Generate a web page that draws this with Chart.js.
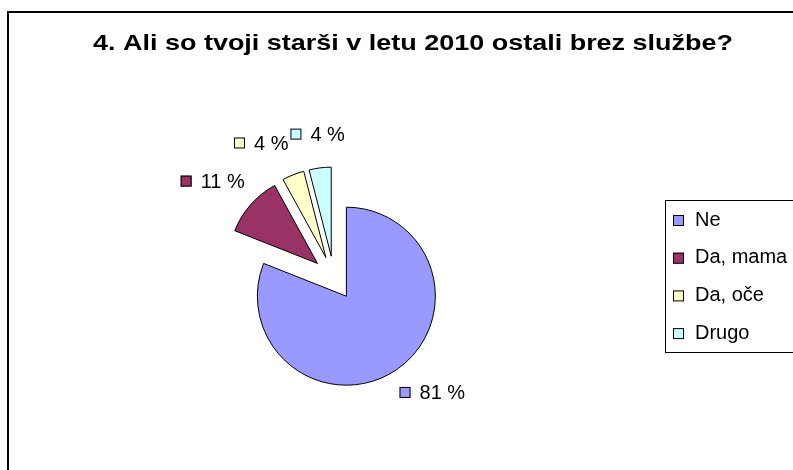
<!DOCTYPE html>
<html lang="sl">
<head>
    <meta charset="UTF-8">
    <title>4. Ali so tvoji starši v letu 2010 ostali brez službe?</title>
    <script src="https://cdn.jsdelivr.net/npm/chart.js"></script>
    <style>
        body {
            margin: 0;
            padding: 0;
            background-color: #ffffff;
        }
        .chart-wrap {
            width: 793px;
            height: 470px;
        }
    </style>
</head>
<body>
    <div class="chart-wrap">
        <canvas id="pieChart" width="793" height="470"></canvas>
    </div>

    <script>
        // Data
        const categories = ['Ne', 'Da, mama', 'Da, oče', 'Drugo'];
        const percentages = [81, 11, 4, 4];
        const sliceColors = ['#9999FF', '#993366', '#FFFFCC', '#CCFFFF'];
        const titleText = '4. Ali so tvoji starši v letu 2010 ostali brez službe?';

        const FONT = '"Liberation Sans", Arial, sans-serif';
        const EXPLODE = 22; // px every slice is pulled out of the centre

        // Draw each arc pulled out along its mid angle (Excel "exploded" pie)
        const explodedPie = {
            id: 'explodedPie',
            beforeDatasetDraw(chart, args) {
                const ctx = chart.ctx;
                args.meta.data.forEach(arc => {
                    const mid = (arc.startAngle + arc.endAngle) / 2;
                    ctx.save();
                    ctx.translate(Math.cos(mid) * EXPLODE, Math.sin(mid) * EXPLODE);
                    arc.draw(ctx);
                    ctx.restore();
                });
                return false;
            }
        };

        // Frame, title, data labels and the legend box
        const excelDecor = {
            id: 'excelDecor',
            afterDraw(chart) {
                const ctx = chart.ctx;
                ctx.save();

                // outer frame (only left and top edges are visible)
                ctx.strokeStyle = '#000';
                ctx.lineWidth = 2;
                ctx.beginPath();
                ctx.moveTo(8, 470);
                ctx.lineTo(8, 12);
                ctx.lineTo(793, 12);
                ctx.stroke();

                // title, slightly stretched horizontally like the original
                ctx.fillStyle = '#000';
                ctx.font = 'bold 22px ' + FONT;
                ctx.textAlign = 'center';
                ctx.textBaseline = 'alphabetic';
                const tw = ctx.measureText(titleText).width;
                ctx.save();
                ctx.translate(413, 50);
                ctx.scale(640 / tw, 1);
                ctx.fillText(titleText, 0, 0);
                ctx.restore();

                // percentage labels outside the slices
                const meta = chart.getDatasetMeta(0);
                ctx.font = '20px ' + FONT;
                ctx.textAlign = 'left';
                const boxes = meta.data.map((arc, i) => {
                    const mid = (arc.startAngle + arc.endAngle) / 2;
                    const dx = Math.cos(mid), dy = Math.sin(mid);
                    const r = arc.outerRadius + 46;
                    const text = percentages[i] + ' %';
                    const w = 11 + 9 + ctx.measureText(text).width;
                    const h = 14;
                    return {
                        text, w, h,
                        cx: arc.x + 4 + r * dx + (w / 2) * dx,
                        cy: arc.y - 3 + r * dy + (h / 2) * dy
                    };
                });
                // push overlapping labels to the left (last slice keeps its place)
                for (let i = boxes.length - 2; i >= 0; i--) {
                    const a = boxes[i], b = boxes[i + 1];
                    const overlapY = Math.abs(a.cy - b.cy) < (a.h + b.h) / 2;
                    const aRight = a.cx + a.w / 2, bLeft = b.cx - b.w / 2;
                    if (overlapY && aRight > bLeft - 2 && a.cx < b.cx + b.w / 2) {
                        a.cx -= aRight - (bLeft - 2);
                    }
                }
                boxes.forEach((b, i) => {
                    const left = b.cx - b.w / 2;
                    ctx.fillStyle = sliceColors[i];
                    ctx.fillRect(left, b.cy - 5.5, 11, 11);
                    ctx.strokeStyle = '#000';
                    ctx.lineWidth = 1;
                    ctx.strokeRect(left + 0.5, b.cy - 5, 10, 10);
                    ctx.fillStyle = '#000';
                    ctx.fillText(b.text, left + 20, b.cy + 7);
                });

                // legend box
                ctx.strokeStyle = '#000';
                ctx.lineWidth = 1;
                ctx.strokeRect(665.5, 200.5, 200, 152);
                categories.forEach((name, i) => {
                    const cy = 220.5 + i * 37.7;
                    ctx.fillStyle = sliceColors[i];
                    ctx.fillRect(673, cy - 5.5, 11, 11);
                    ctx.strokeStyle = '#000';
                    ctx.strokeRect(673.5, cy - 5, 10, 10);
                    ctx.fillStyle = '#000';
                    ctx.fillText(name, 695, cy + 5);
                });

                ctx.restore();
            }
        };

        new Chart(document.getElementById('pieChart'), {
            type: 'pie',
            data: {
                labels: categories,
                datasets: [{
                    data: percentages,
                    backgroundColor: sliceColors,
                    borderColor: '#000',
                    borderWidth: 1
                }]
            },
            options: {
                responsive: false,
                animation: false,
                devicePixelRatio: 1,
                radius: 89,
                layout: {
                    padding: { left: 0, right: 125, top: 86, bottom: 0 }
                },
                plugins: {
                    legend: { display: false },
                    title: { display: false },
                    tooltip: { enabled: false }
                }
            },
            plugins: [explodedPie, excelDecor]
        });
    </script>
</body>
</html>
